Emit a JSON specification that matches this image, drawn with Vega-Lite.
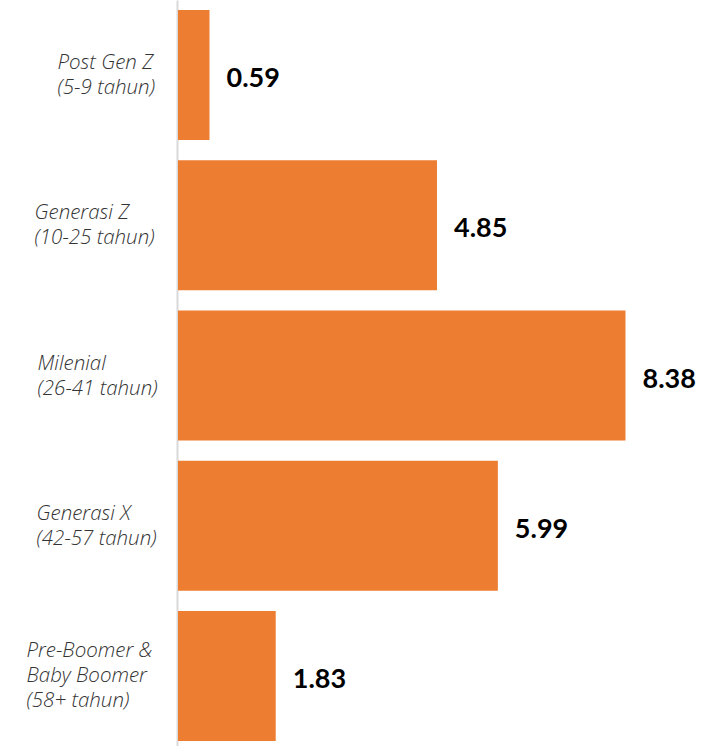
{
  "$schema": "https://vega.github.io/schema/vega-lite/v6.json",
  "width": 542,
  "height": 746,
  "autosize": {"type": "none"},
  "padding": {"left": 178, "top": 0, "right": 0, "bottom": 0},
  "background": "white",
  "config": {"view": {"stroke": null}},
  "data": {
    "values": [
      {"group": "Post Gen Z|(5-9 tahun)", "value": 0.59},
      {"group": "Generasi Z|(10-25 tahun)", "value": 4.85},
      {"group": "Milenial|(26-41 tahun)", "value": 8.38},
      {"group": "Generasi X|(42-57 tahun)", "value": 5.99},
      {"group": "Pre-Boomer &|Baby Boomer|(58+ tahun)", "value": 1.83}
    ]
  },
  "encoding": {
    "y": {
      "field": "group",
      "type": "nominal",
      "sort": null,
      "scale": {"paddingInner": 0.135, "paddingOuter": 0.05, "align": 0.667},
      "axis": {
        "title": null,
        "ticks": false,
        "domain": true,
        "domainColor": "#d9d9d9",
        "domainWidth": 2,
        "offset": 1,
        "labelExpr": "split(datum.label, '|')",
        "labelFont": "Open Sans",
        "labelFontStyle": "italic",
        "labelFontWeight": 300,
        "labelFontSize": 20.5,
        "labelLineHeight": 25,
        "labelColor": "#333333",
        "labelAlign": "left",
        "labelLimit": 300,
        "labelPadding": {
          "condition": [
            {"test": "datum.value === 'Post Gen Z|(5-9 tahun)'", "value": 120},
            {"test": "datum.value === 'Generasi Z|(10-25 tahun)'", "value": 143},
            {"test": "datum.value === 'Milenial|(26-41 tahun)'", "value": 140},
            {"test": "datum.value === 'Generasi X|(42-57 tahun)'", "value": 141}
          ],
          "value": 151
        },
        "labelOffset": {
          "condition": {"test": "datum.value === 'Pre-Boomer &|Baby Boomer|(58+ tahun)'", "value": -25},
          "value": -12
        }
      }
    },
    "x": {
      "field": "value",
      "type": "quantitative",
      "scale": {"domain": [0, 10.15], "nice": false},
      "axis": null
    }
  },
  "layer": [
    {"mark": {"type": "bar", "color": "#ED7D31"}},
    {
      "mark": {
        "type": "text",
        "align": "left",
        "baseline": "middle",
        "dx": 17,
        "dy": 4,
        "font": "Lato",
        "fontWeight": "bold",
        "fontSize": 27,
        "color": "#000000"
      },
      "encoding": {"text": {"field": "value", "type": "quantitative", "format": ".2f"}}
    }
  ]
}
